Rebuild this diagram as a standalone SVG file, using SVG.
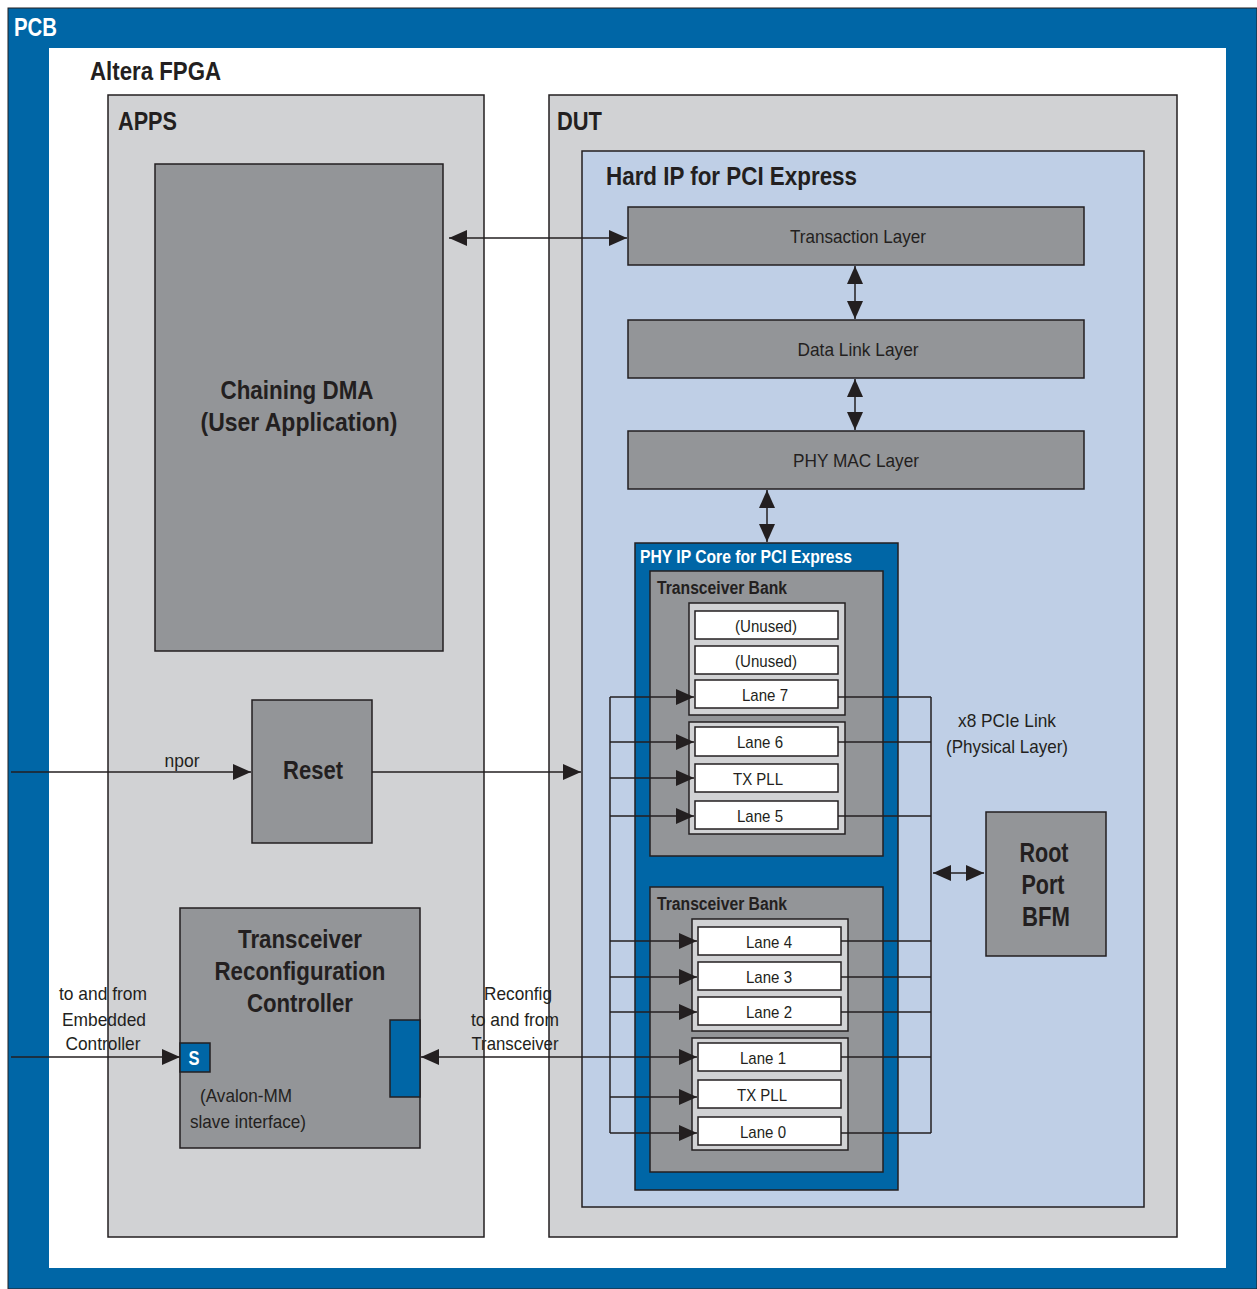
<svg xmlns="http://www.w3.org/2000/svg" width="1257" height="1289" viewBox="0 0 1257 1289">
<style>
.b{font-family:"Liberation Sans",Arial,sans-serif;font-weight:bold;fill:#231F20}
.r{font-family:"Liberation Sans",Arial,sans-serif;fill:#231F20}
.w{fill:#FFFFFF}
.blue{fill:#0066A6;stroke:#231F20;stroke-width:1.5}
.lg{fill:#D1D2D4;stroke:#231F20;stroke-width:1.5}
.dg{fill:#939598;stroke:#231F20;stroke-width:1.5}
.lb{fill:#BFCFE6;stroke:#231F20;stroke-width:1.5}
.wb{fill:#FFFFFF;stroke:#231F20;stroke-width:1.5}
.c{fill:none;stroke:#231F20;stroke-width:1.5}
</style>
<defs>
<marker id="ah" viewBox="0 0 18 16" refX="18" refY="8" markerWidth="18" markerHeight="16" orient="auto-start-reverse" markerUnits="userSpaceOnUse">
<path d="M0,0 L18,8 L0,16 Z" fill="#231F20"/>
</marker>
</defs>

<g id="pcb">
<rect x="8" y="8" width="1249" height="1281" fill="#0066A6" stroke="#231F20" stroke-width="1"/>
<rect x="49" y="48" width="1177" height="1220" fill="#FFFFFF"/>
<text x="14" y="36" class="b w" font-size="25" textLength="43" lengthAdjust="spacingAndGlyphs">PCB</text>
</g>

<g id="fpga">
<text x="90" y="80" class="b" font-size="25" textLength="131" lengthAdjust="spacingAndGlyphs">Altera FPGA</text>
</g>

<g id="apps">
<rect x="108" y="95" width="376" height="1142" class="lg"/>
<text x="118" y="130" class="b" font-size="26" textLength="59" lengthAdjust="spacingAndGlyphs">APPS</text>
</g>

<g id="dut">
<rect x="549" y="95" width="628" height="1142" class="lg"/>
<text x="557" y="130" class="b" font-size="26" textLength="45" lengthAdjust="spacingAndGlyphs">DUT</text>
</g>

<g id="hardip">
<rect x="582" y="151" width="562" height="1056" class="lb"/>
<text x="606" y="185" class="b" font-size="26" textLength="251" lengthAdjust="spacingAndGlyphs">Hard IP for PCI Express</text>
</g>

<g id="dma">
<rect x="155" y="164" width="288" height="487" class="dg"/>
<text x="297" y="399" class="b" font-size="26" text-anchor="middle" textLength="153" lengthAdjust="spacingAndGlyphs">Chaining DMA</text>
<text x="299" y="431" class="b" font-size="26" text-anchor="middle" textLength="197" lengthAdjust="spacingAndGlyphs">(User Application)</text>
</g>

<g id="transaction">
<rect x="628" y="207" width="456" height="58" class="dg"/>
<text x="858" y="243" class="r" font-size="19" text-anchor="middle" textLength="136" lengthAdjust="spacingAndGlyphs">Transaction Layer</text>
</g>
<g id="datalink">
<rect x="628" y="320" width="456" height="58" class="dg"/>
<text x="858" y="356" class="r" font-size="19" text-anchor="middle" textLength="121" lengthAdjust="spacingAndGlyphs">Data Link Layer</text>
</g>
<g id="phymac">
<rect x="628" y="431" width="456" height="58" class="dg"/>
<text x="856" y="467" class="r" font-size="19" text-anchor="middle" textLength="126" lengthAdjust="spacingAndGlyphs">PHY MAC Layer</text>
</g>

<g id="reset">
<rect x="252" y="700" width="120" height="143" class="dg"/>
<text x="313" y="779" class="b" font-size="26" text-anchor="middle" textLength="60" lengthAdjust="spacingAndGlyphs">Reset</text>
</g>

<g id="reconfig">
<rect x="180" y="908" width="240" height="240" class="dg"/>
<text x="300" y="948" class="b" font-size="26" text-anchor="middle" textLength="124" lengthAdjust="spacingAndGlyphs">Transceiver</text>
<text x="300" y="980" class="b" font-size="26" text-anchor="middle" textLength="171" lengthAdjust="spacingAndGlyphs">Reconfiguration</text>
<text x="300" y="1012" class="b" font-size="26" text-anchor="middle" textLength="106" lengthAdjust="spacingAndGlyphs">Controller</text>
<rect x="180" y="1043" width="30" height="29" class="blue"/>
<text x="194" y="1065" class="b w" font-size="20" text-anchor="middle" textLength="11" lengthAdjust="spacingAndGlyphs">S</text>
<rect x="390" y="1020" width="30" height="77" class="blue"/>
<text x="200" y="1102" class="r" font-size="19" textLength="92" lengthAdjust="spacingAndGlyphs">(Avalon-MM</text>
<text x="190" y="1128" class="r" font-size="19" textLength="116" lengthAdjust="spacingAndGlyphs">slave interface)</text>
</g>

<g id="phyip">
<rect x="635" y="543" width="263" height="647" class="blue"/>
<text x="640" y="563" class="b w" font-size="19" textLength="212" lengthAdjust="spacingAndGlyphs">PHY IP Core for PCI Express</text>
</g>

<g id="bank1">
<rect x="650" y="571" width="233" height="285" class="dg"/>
<text x="657" y="594" class="b" font-size="18" textLength="130" lengthAdjust="spacingAndGlyphs">Transceiver Bank</text>
<rect x="689" y="603" width="156" height="112" class="lg"/>
<rect x="689" y="722" width="156" height="112" class="lg"/>
<g id="unused1"><rect x="695" y="611" width="143" height="28" class="wb"/><text x="766" y="632" class="r" font-size="17" text-anchor="middle" textLength="62" lengthAdjust="spacingAndGlyphs">(Unused)</text></g>
<g id="unused2"><rect x="695" y="646" width="143" height="28" class="wb"/><text x="766" y="667" class="r" font-size="17" text-anchor="middle" textLength="62" lengthAdjust="spacingAndGlyphs">(Unused)</text></g>
<g id="lane7"><rect x="695" y="680" width="143" height="28" class="wb"/><text x="765" y="701" class="r" font-size="17" text-anchor="middle" textLength="46" lengthAdjust="spacingAndGlyphs">Lane 7</text></g>
<g id="lane6"><rect x="695" y="727" width="143" height="29" class="wb"/><text x="760" y="748" class="r" font-size="17" text-anchor="middle" textLength="46" lengthAdjust="spacingAndGlyphs">Lane 6</text></g>
<g id="txpll1"><rect x="695" y="764" width="143" height="28" class="wb"/><text x="758" y="785" class="r" font-size="17" text-anchor="middle" textLength="50" lengthAdjust="spacingAndGlyphs">TX PLL</text></g>
<g id="lane5"><rect x="695" y="801" width="143" height="28" class="wb"/><text x="760" y="822" class="r" font-size="17" text-anchor="middle" textLength="46" lengthAdjust="spacingAndGlyphs">Lane 5</text></g>
</g>

<g id="bank2">
<rect x="650" y="887" width="233" height="285" class="dg"/>
<text x="657" y="910" class="b" font-size="18" textLength="130" lengthAdjust="spacingAndGlyphs">Transceiver Bank</text>
<rect x="692" y="919" width="156" height="112" class="lg"/>
<rect x="692" y="1038" width="156" height="112" class="lg"/>
<g id="lane4"><rect x="698" y="927" width="143" height="28" class="wb"/><text x="769" y="948" class="r" font-size="17" text-anchor="middle" textLength="46" lengthAdjust="spacingAndGlyphs">Lane 4</text></g>
<g id="lane3"><rect x="698" y="962" width="143" height="28" class="wb"/><text x="769" y="983" class="r" font-size="17" text-anchor="middle" textLength="46" lengthAdjust="spacingAndGlyphs">Lane 3</text></g>
<g id="lane2"><rect x="698" y="997" width="143" height="28" class="wb"/><text x="769" y="1018" class="r" font-size="17" text-anchor="middle" textLength="46" lengthAdjust="spacingAndGlyphs">Lane 2</text></g>
<g id="lane1"><rect x="698" y="1043" width="143" height="28" class="wb"/><text x="763" y="1064" class="r" font-size="17" text-anchor="middle" textLength="46" lengthAdjust="spacingAndGlyphs">Lane 1</text></g>
<g id="txpll2"><rect x="698" y="1080" width="143" height="28" class="wb"/><text x="762" y="1101" class="r" font-size="17" text-anchor="middle" textLength="50" lengthAdjust="spacingAndGlyphs">TX PLL</text></g>
<g id="lane0"><rect x="698" y="1117" width="143" height="28" class="wb"/><text x="763" y="1138" class="r" font-size="17" text-anchor="middle" textLength="46" lengthAdjust="spacingAndGlyphs">Lane 0</text></g>
</g>

<g id="rootport">
<rect x="986" y="812" width="120" height="144" class="dg"/>
<text x="1044" y="862" class="b" font-size="27" text-anchor="middle" textLength="49" lengthAdjust="spacingAndGlyphs">Root</text>
<text x="1043" y="894" class="b" font-size="27" text-anchor="middle" textLength="43" lengthAdjust="spacingAndGlyphs">Port</text>
<text x="1046" y="926" class="b" font-size="27" text-anchor="middle" textLength="48" lengthAdjust="spacingAndGlyphs">BFM</text>
</g>

<g id="labels">
<text x="182" y="767" class="r" font-size="19" text-anchor="middle" textLength="35" lengthAdjust="spacingAndGlyphs">npor</text>
<text x="103" y="1000" class="r" font-size="19" text-anchor="middle" textLength="88" lengthAdjust="spacingAndGlyphs">to and from</text>
<text x="104" y="1026" class="r" font-size="19" text-anchor="middle" textLength="84" lengthAdjust="spacingAndGlyphs">Embedded</text>
<text x="103" y="1050" class="r" font-size="19" text-anchor="middle" textLength="75" lengthAdjust="spacingAndGlyphs">Controller</text>
<text x="518" y="1000" class="r" font-size="19" text-anchor="middle" textLength="68" lengthAdjust="spacingAndGlyphs">Reconfig</text>
<text x="515" y="1026" class="r" font-size="19" text-anchor="middle" textLength="88" lengthAdjust="spacingAndGlyphs">to and from</text>
<text x="515" y="1050" class="r" font-size="19" text-anchor="middle" textLength="87" lengthAdjust="spacingAndGlyphs">Transceiver</text>
<text x="1007" y="727" class="r" font-size="19" text-anchor="middle" textLength="98" lengthAdjust="spacingAndGlyphs">x8 PCIe Link</text>
<text x="1007" y="753" class="r" font-size="19" text-anchor="middle" textLength="122" lengthAdjust="spacingAndGlyphs">(Physical Layer)</text>
</g>

<g id="connectors">
<line x1="449" y1="238" x2="627" y2="238" class="c" marker-start="url(#ah)" marker-end="url(#ah)"/>
<line x1="855" y1="266" x2="855" y2="319" class="c" marker-start="url(#ah)" marker-end="url(#ah)"/>
<line x1="855" y1="379" x2="855" y2="430" class="c" marker-start="url(#ah)" marker-end="url(#ah)"/>
<line x1="767" y1="490" x2="767" y2="542" class="c" marker-start="url(#ah)" marker-end="url(#ah)"/>
<line x1="11" y1="772" x2="251" y2="772" class="c" marker-end="url(#ah)"/>
<line x1="372" y1="772" x2="581" y2="772" class="c" marker-end="url(#ah)"/>
<line x1="11" y1="1057" x2="180" y2="1057" class="c" marker-end="url(#ah)"/>
<line x1="421" y1="1057" x2="697" y2="1057" class="c" marker-start="url(#ah)" marker-end="url(#ah)"/>
<line x1="610" y1="697" x2="610" y2="1133" class="c"/>
<line x1="610" y1="697" x2="694" y2="697" class="c" marker-end="url(#ah)"/>
<line x1="610" y1="742" x2="694" y2="742" class="c" marker-end="url(#ah)"/>
<line x1="610" y1="778" x2="694" y2="778" class="c" marker-end="url(#ah)"/>
<line x1="610" y1="816" x2="694" y2="816" class="c" marker-end="url(#ah)"/>
<line x1="610" y1="941" x2="697" y2="941" class="c" marker-end="url(#ah)"/>
<line x1="610" y1="977" x2="697" y2="977" class="c" marker-end="url(#ah)"/>
<line x1="610" y1="1012" x2="697" y2="1012" class="c" marker-end="url(#ah)"/>
<line x1="610" y1="1097" x2="697" y2="1097" class="c" marker-end="url(#ah)"/>
<line x1="610" y1="1133" x2="697" y2="1133" class="c" marker-end="url(#ah)"/>
<line x1="931" y1="697" x2="931" y2="1133" class="c"/>
<line x1="838" y1="697" x2="931" y2="697" class="c"/>
<line x1="838" y1="742" x2="931" y2="742" class="c"/>
<line x1="838" y1="816" x2="931" y2="816" class="c"/>
<line x1="841" y1="941" x2="931" y2="941" class="c"/>
<line x1="841" y1="977" x2="931" y2="977" class="c"/>
<line x1="841" y1="1012" x2="931" y2="1012" class="c"/>
<line x1="841" y1="1057" x2="931" y2="1057" class="c"/>
<line x1="841" y1="1133" x2="931" y2="1133" class="c"/>
<line x1="933" y1="873" x2="984" y2="873" class="c" marker-start="url(#ah)" marker-end="url(#ah)"/>
</g>
</svg>
